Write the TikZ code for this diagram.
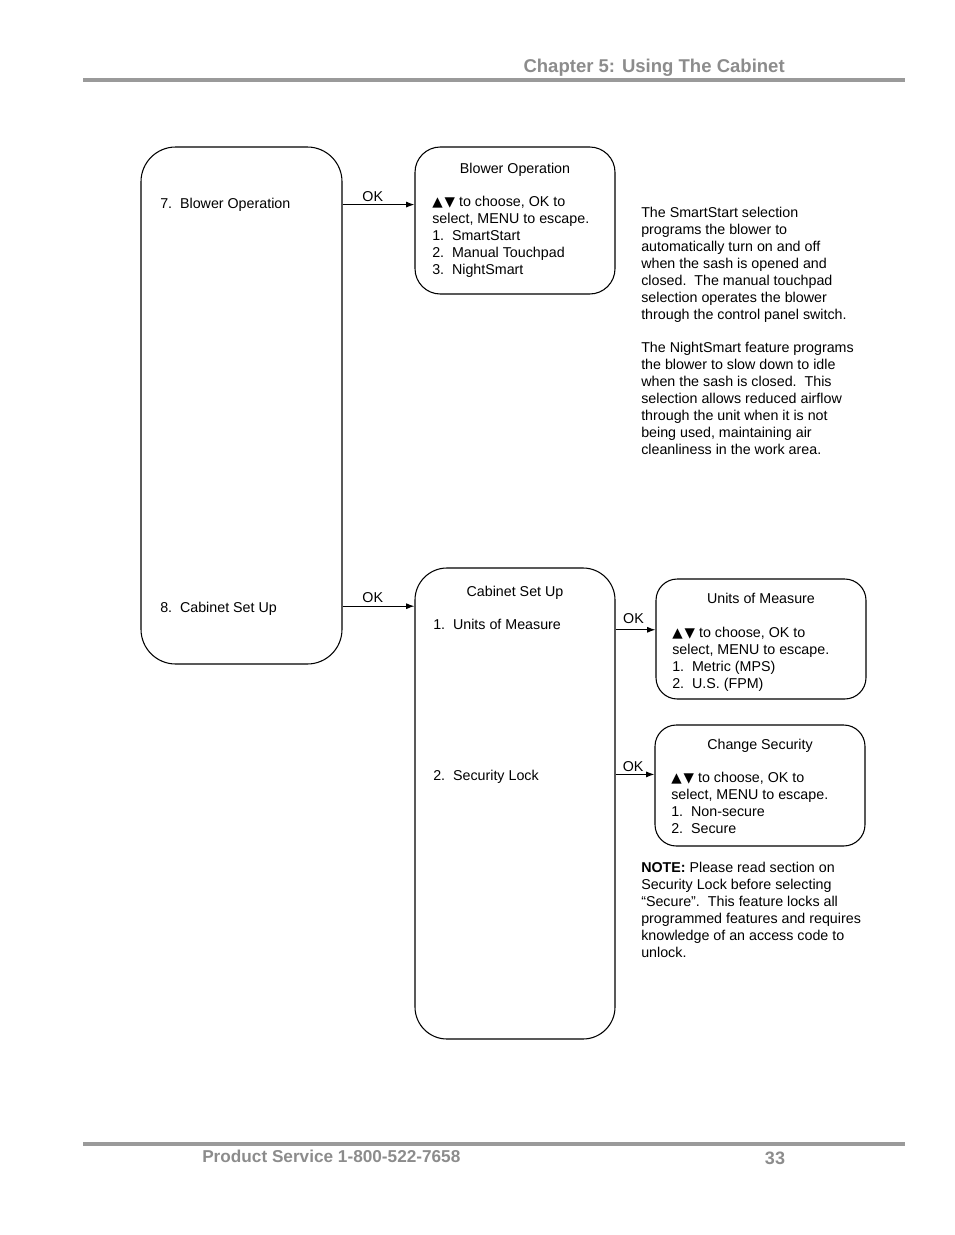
\documentclass[tikz,border=0pt]{standalone}
\usepackage{fontspec}
\setmainfont{Liberation Sans}
\newfontfamily\arrowsym{DejaVu Sans}
\usetikzlibrary{positioning, arrows.meta, calc}
\definecolor{pagegray}{HTML}{8c8c8c}
\definecolor{rulegray}{HTML}{9a9a9a}
\newcommand{\updown}{{\arrowsym\scalebox{0.95}{▲}\kern1.5pt\scalebox{0.95}{▼}}}

\tikzset{
  menubox/.style={rectangle, draw=black, line width=0.8pt, inner sep=0pt},
  boxtitle/.style={anchor=base, inner sep=0pt},
  boxtext/.style={anchor=base west, inner sep=0pt, align=left},
  okarrow/.style={-{Latex[length=2.2mm, width=1.6mm]}, line width=0.8pt},
  oklabel/.style={above, inner sep=2pt}
}

\begin{document}
\begin{tikzpicture}[x=0.75pt, y=-0.75pt, font=\fontsize{10.7}{12.75}\selectfont]
  \useasboundingbox (0,0) rectangle (954,1235);

  % page header and footer
  \draw[rulegray, line width=2.4pt] (83,80) -- (905,80);
  \node[anchor=base east, inner sep=0pt, text=pagegray, font=\fontsize{13.9}{16}\selectfont\bfseries] (chapter) at (785,72) {Chapter 5: Using The Cabinet};
  \draw[rulegray, line width=2.4pt] (83,1144) -- (905,1144);
  \node[anchor=base west, inner sep=0pt, text=pagegray, font=\fontsize{12.9}{16}\selectfont\bfseries] (service) at (202,1162) {Product Service 1-800-522-7658};
  \node[anchor=base, inner sep=0pt, text=pagegray, font=\fontsize{13.5}{16}\selectfont\bfseries] (pagenum) at (775,1164) {33};

  % menu boxes
  \node[menubox, rounded corners=26pt, minimum width=150.75pt, minimum height=387.75pt] (mainmenu) at (241.5,405.5) {};
  \node[menubox, rounded corners=19pt, minimum width=150pt, minimum height=110.25pt] (blowerbox) at (515,220.5) {};
  \node[menubox, rounded corners=24pt, minimum width=150pt, minimum height=353.25pt] (setupbox) at (515,803.5) {};
  \node[menubox, rounded corners=16pt, minimum width=157.5pt, minimum height=90pt] (unitsbox) at (761,639) {};
  \node[menubox, rounded corners=16pt, minimum width=157.5pt, minimum height=90.75pt] (securitybox) at (760,785.5) {};

  % main menu entries
  \node[boxtext] (item7) at (160,208) {7.\ \ Blower Operation};
  \node[boxtext] (item8) at (160,612) {8.\ \ Cabinet Set Up};

  % blower operation (base anchor = last line)
  \node[boxtitle] (blowertitle) at (515,173) {Blower Operation};
  \node[boxtext] (blowertext) at (432,274) {\updown\ to choose, OK to\\select, MENU to escape.\\1.\ \ SmartStart\\2.\ \ Manual Touchpad\\3.\ \ NightSmart};

  % cabinet set up
  \node[boxtitle] (setuptitle) at (515,596) {Cabinet Set Up};
  \node[boxtext] (unititem) at (433,629) {1.\ \ Units of Measure};
  \node[boxtext] (lockitem) at (433,780) {2.\ \ Security Lock};

  % units of measure
  \node[boxtitle] (unitstitle) at (761,603) {Units of Measure};
  \node[boxtext] (unitstext) at (672,688) {\updown\ to choose, OK to\\select, MENU to escape.\\1.\ \ Metric (MPS)\\2.\ \ U.S. (FPM)};

  % change security
  \node[boxtitle] (securitytitle) at (760,749) {Change Security};
  \node[boxtext] (securitytext) at (671,833) {\updown\ to choose, OK to\\select, MENU to escape.\\1.\ \ Non-secure\\2.\ \ Secure};

  % side notes
  \node[boxtext] (smartnote) at (641,319) {The SmartStart selection\\programs the blower to\\automatically turn on and off\\when the sash is opened and\\closed.\ \ The manual touchpad\\selection operates the blower\\through the control panel switch.};
  \node[boxtext] (nightnote) at (641,454) {The NightSmart feature programs\\the blower to slow down to idle\\when the sash is closed.\ \ This\\selection allows reduced airflow\\through the unit when it is not\\being used, maintaining air\\cleanliness in the work area.};
  \node[boxtext] (securenote) at (641,957) {\textbf{NOTE:} Please read section on\\Security Lock before selecting\\“Secure”.\ \ This feature locks all\\programmed features and requires\\knowledge of an access code to\\unlock.};

  % OK connectors
  \draw[okarrow] (blowerbox.171 -| mainmenu.east) -- node[oklabel, pos=0.42] (ok7) {OK} (blowerbox.171);
  \draw[okarrow] (setupbox.117 -| mainmenu.east) -- node[oklabel, pos=0.42] (ok8) {OK} (setupbox.117);
  \draw[okarrow] (unitsbox.175 -| setupbox.east) -- node[oklabel, pos=0.45, yshift=2pt] (okunits) {OK} (unitsbox.175);
  \draw[okarrow] (securitybox.174 -| setupbox.east) -- node[oklabel, pos=0.45] (oksecure) {OK} (securitybox.174);
\end{tikzpicture}
\end{document}
